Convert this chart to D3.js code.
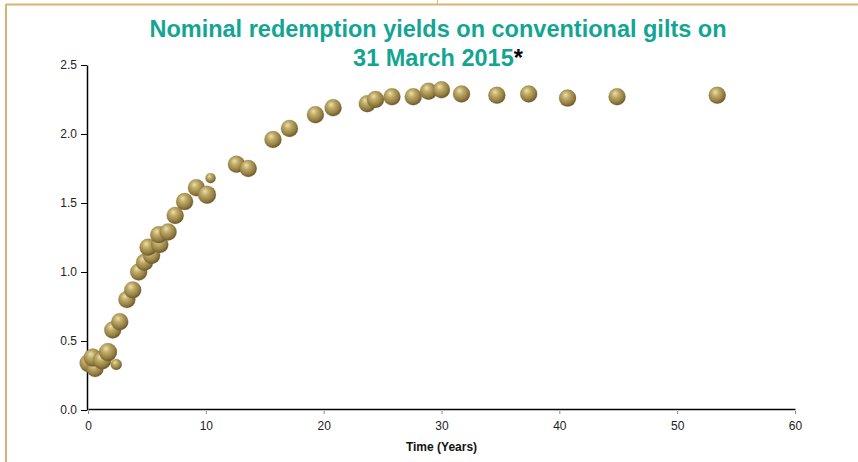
<!DOCTYPE html>
<html>
<head>
<meta charset="utf-8">
<script src="https://cdn.jsdelivr.net/npm/d3@7"></script>
<style>
  body { margin: 0; background: #fff; }
  svg { display: block; font-family: "Liberation Sans", Arial, sans-serif; }
</style>
</head>
<body>
<div id="graphicContainer"></div>
<script>

// maturity (years), yield (%), bubble radius
var maturities = [0.05, 0.6, 0.4, 1.2, 1.7, 2.4, 2.1, 2.7, 3.3, 3.8, 4.3, 4.8, 5.4, 5.1, 6.1, 6.0, 6.8, 7.4, 8.2, 9.2, 10.1, 10.4, 12.6, 13.6, 15.7, 17.1, 19.3, 20.8, 23.7, 24.4, 25.8, 27.6, 28.9, 30.0, 31.7, 34.7, 37.4, 40.7, 44.9, 53.4]
var yields = [0.34, 0.30, 0.38, 0.36, 0.42, 0.33, 0.58, 0.64, 0.80, 0.87, 1.00, 1.07, 1.12, 1.18, 1.20, 1.27, 1.29, 1.41, 1.51, 1.61, 1.56, 1.68, 1.78, 1.75, 1.96, 2.04, 2.14, 2.19, 2.22, 2.25, 2.27, 2.27, 2.31, 2.32, 2.29, 2.28, 2.29, 2.26, 2.27, 2.28]
var sizes = [9, 8.5, 9, 9, 9, 5.5, 8.5, 8.5, 8.5, 8.5, 8.5, 8.5, 8.5, 8.5, 8.5, 8.5, 8.5, 8.5, 8.5, 8.5, 9, 5, 8.5, 8.5, 8.5, 8.5, 8.5, 8.5, 8.5, 8.5, 8.5, 8.5, 8.5, 8.5, 8.5, 8.5, 8.5, 8.5, 8.5, 8.5]

var xTicks = [0, 10, 20, 30, 40, 50, 60]
var yTicks = [0, 0.5, 1.0, 1.5, 2.0, 2.5]

var titleLines = ["Nominal redemption yields on conventional gilts on", "31 March 2015"]

var width = 858, height = 462
var margin = {top: 65, right: 63, bottom: 52, left: 88}

var chartData = maturities.map((m, i) => ({ x: m, y: yields[i], r: sizes[i] }))

var svg = d3.select("#graphicContainer").append("svg")
  .attr("width", width)
  .attr("height", height)

// gradient for the gold bubbles
var defs = svg.append("defs")
var grad = defs.append("radialGradient")
  .attr("id", "gold")
  .attr("cx", "42%").attr("cy", "38%").attr("r", "62%")
  .attr("fx", "38%").attr("fy", "30%")
grad.append("stop").attr("offset", "0%").attr("stop-color", "#ece0ab")
grad.append("stop").attr("offset", "35%").attr("stop-color", "#bfab68")
grad.append("stop").attr("offset", "75%").attr("stop-color", "#957f42")
grad.append("stop").attr("offset", "100%").attr("stop-color", "#6b5a2e")

defs.append("filter").attr("id", "soft")
  .append("feGaussianBlur").attr("stdDeviation", 0.6)

// frame
svg.append("line")
  .attr("x1", 6).attr("x2", width).attr("y1", 4.5).attr("y2", 4.5)
  .attr("stroke", "#d8b46e").attr("stroke-width", 2)
svg.append("line")
  .attr("x1", 6).attr("x2", 6).attr("y1", 4).attr("y2", height)
  .attr("stroke", "#d8b46e").attr("stroke-width", 2)
svg.append("line")
  .attr("x1", 437.5).attr("x2", 437.5).attr("y1", 0).attr("y2", 5)
  .attr("stroke", "#d8b46e").attr("stroke-width", 1)

var x = d3.scaleLinear()
  .domain([0, 60])
  .range([margin.left, width - margin.right])

var y = d3.scaleLinear()
  .domain([0, 2.5])
  .range([height - margin.bottom, margin.top])

// x axis
var xAxis = svg.append("g")
  .attr("transform", `translate(0,${y(0) - 1})`)
  .call(d3.axisBottom(x).tickValues(xTicks).tickSize(5).tickSizeOuter(0).tickFormat(d3.format("d")))
xAxis.select(".domain").attr("stroke", "#000").attr("stroke-width", 1.5)
xAxis.selectAll(".tick line").attr("stroke", "#888").attr("y1", 2)
xAxis.selectAll(".tick text")
  .attr("font-size", 12).attr("fill", "#222").attr("dy", "1.05em")
  .attr("font-family", "Liberation Sans, Arial, sans-serif")

// y axis
var yAxis = svg.append("g")
  .attr("transform", `translate(${x(0) - 1},0)`)
  .call(d3.axisLeft(y).tickValues(yTicks).tickSize(6).tickSizeOuter(0).tickFormat(d3.format(".1f")))
yAxis.select(".domain").attr("stroke", "#000").attr("stroke-width", 1.5)
yAxis.selectAll(".tick line").attr("stroke", "#000")
yAxis.selectAll(".tick text")
  .attr("font-size", 12).attr("fill", "#222").attr("x", -10)
  .attr("font-family", "Liberation Sans, Arial, sans-serif")

svg.append("text")
  .attr("x", (x(0) + x(60)) / 2)
  .attr("y", 451)
  .attr("text-anchor", "middle")
  .attr("font-size", 12)
  .attr("font-weight", "bold")
  .attr("fill", "#111")
  .text("Time (Years)")

// bubbles
svg.append("g")
  .attr("filter", "url(#soft)")
  .selectAll("circle")
  .data(chartData)
  .join("circle")
    .attr("cx", d => x(d.x))
    .attr("cy", d => y(d.y))
    .attr("r", d => d.r)
    .attr("fill", "url(#gold)")
    .attr("stroke", "#7a6634")
    .attr("stroke-opacity", 0.35)
    .attr("stroke-width", 0.6)

// title
var title = svg.append("g")
  .attr("font-size", 23.5)
  .attr("font-weight", "bold")
  .attr("fill", "#13a593")
  .attr("text-anchor", "middle")

title.append("text")
  .attr("x", 438)
  .attr("y", 37)
  .text(titleLines[0])

var t2 = title.append("text")
  .attr("x", 438)
  .attr("y", 66)
t2.append("tspan").text(titleLines[1])
t2.append("tspan").attr("fill", "#000").text("*")

</script>
</body>
</html>
